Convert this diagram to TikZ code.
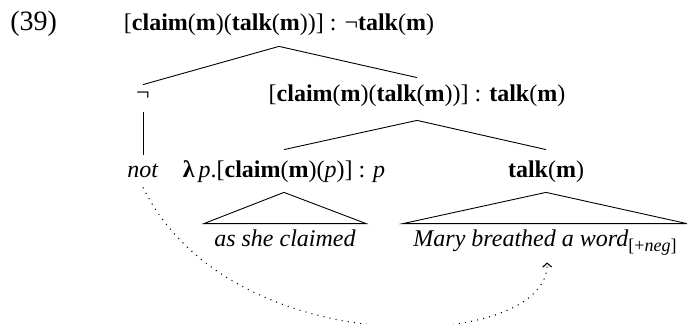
\documentclass[tikz,border=0pt]{standalone}
\usepackage{fontspec}
\setmainfont{Liberation Serif}
\usetikzlibrary{positioning,arrows.meta}

\begin{document}
\begin{tikzpicture}[x=0.5pt,y=-0.5pt,
treenode/.style={inner sep=0pt, anchor=base, text height=8pt, text depth=3pt, font=\fontsize{12}{14}\selectfont},
branch/.style={line width=0.45pt},
movearrow/.style={dash pattern=on 0.5pt off 2.6pt, line width=0.55pt, -{Straight Barb[length=2pt,width=4.5pt]}},
]
\useasboundingbox (0,0) rectangle (687,324);
%Nodes
\node[treenode, anchor=base west, font=\fontsize{14}{16}\selectfont] (exno) at (10,31) {(39)};
\node[treenode] (root) at (279,31) {[\textbf{claim}(\textbf{m})(\textbf{talk}(\textbf{m}))] : ¬\textbf{talk}(\textbf{m})};
\node[treenode] (neg) at (143,101) {¬};
\node[treenode] (rchild) at (417,102) {[\textbf{claim}(\textbf{m})(\textbf{talk}(\textbf{m}))] : \textbf{talk}(\textbf{m})};
\node[treenode] (notword) at (143,178) {\textit{not}};
\node[treenode] (lam) at (284,178) {\textbf{λ}\,\textit{p}.[\textbf{claim}(\textbf{m})(\textit{p})] : \textit{p}};
\node[treenode] (talk) at (546,178) {\textbf{talk}(\textbf{m})};
\node[treenode] (claimed) at (285,247) {\textit{as she claimed}};
\node[treenode] (mary) at (545,247) {\textit{Mary breathed a word}\raisebox{-0.45ex}{\fontsize{9}{10}\selectfont[+\textit{neg}]}};

%Lines
\draw[branch] ([yshift=-4.5pt]root.south) -- ([yshift=0pt]neg.north);
\draw[branch] ([yshift=-4.5pt]root.south) -- ([yshift=4pt]rchild.north);
\draw[branch] ([yshift=-2.5pt]neg.south) -- ([yshift=3.5pt]notword.north);
\draw[branch] ([yshift=-6pt]rchild.south) -- ([yshift=6pt]lam.north);
\draw[branch] ([yshift=-6pt]rchild.south) -- ([yshift=6pt]talk.north);
\draw[branch] ([yshift=-4pt]lam.south) -- ([xshift=-5pt,yshift=3.5pt]claimed.north west) -- ([xshift=5pt,yshift=3.5pt]claimed.north east) -- cycle;
\draw[branch] ([yshift=-4pt]talk.south) -- ([xshift=-5pt,yshift=3.5pt]mary.north west) -- ([xshift=5pt,yshift=3.5pt]mary.north east) -- cycle;

%Movement
\draw[movearrow] ([yshift=-1.5pt]notword.south) .. controls +(87,178) and +(3,90) .. ([xshift=1pt,yshift=-4.5pt]mary.south);
\end{tikzpicture}
\end{document}
